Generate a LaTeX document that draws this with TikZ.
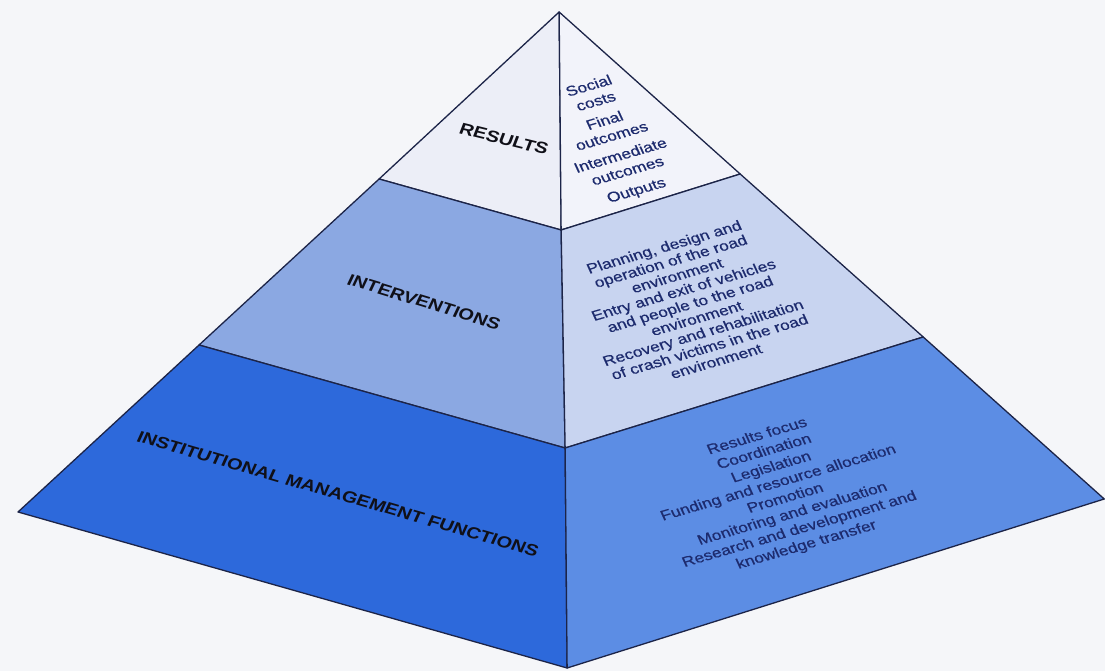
\documentclass[tikz,border=0pt]{standalone}
\usepackage{fontspec}
\setmainfont{Liberation Sans}
\newfontfamily\listfont{Liberation Sans}[FakeBold=0.6]
\definecolor{bgc}{HTML}{F5F6F9}
\definecolor{edgec}{HTML}{1C2448}
\definecolor{resL}{HTML}{ECEEF7}
\definecolor{resR}{HTML}{F2F3FA}
\definecolor{intL}{HTML}{8BA8E2}
\definecolor{intR}{HTML}{C8D4F0}
\definecolor{imfL}{HTML}{2D69DB}
\definecolor{imfR}{HTML}{5C8DE4}
\definecolor{lblc}{HTML}{101018}
\definecolor{navy}{HTML}{1D2B6E}
\tikzset{
  face/.style={draw=edgec, line width=1.3pt, line join=round},
  lbl/.style={font=\bfseries\fontsize{16}{18}\selectfont, text=lblc, transform shape, inner sep=0pt},
  lst/.style={font=\listfont\fontsize{14}{16.5}\selectfont, text=navy, align=center, transform shape, inner sep=0pt, rotate=20},
}
\begin{document}
\begin{tikzpicture}[x=0.8pt,y=-1pt,xscale=1.25]
\useasboundingbox (0,0) rectangle (1105,671);
\fill[bgc] (0,0) rectangle (1105,671);
\coordinate (A) at (559,12);
\coordinate (L) at (18,512);
\coordinate (F) at (567,668);
\coordinate (R) at (1104,499);
\coordinate (P1) at (379,179);
\coordinate (P2) at (199,345);
\coordinate (C1) at (561,230);
\coordinate (C2) at (565,448);
\coordinate (Q1) at (740,174);
\coordinate (Q2) at (923,337);
% faces
\filldraw[face, fill=resL] (A) -- (P1) -- (C1) -- cycle;
\filldraw[face, fill=resR] (A) -- (C1) -- (Q1) -- cycle;
\filldraw[face, fill=intL] (P1) -- (P2) -- (C2) -- (C1) -- cycle;
\filldraw[face, fill=intR] (C1) -- (C2) -- (Q2) -- (Q1) -- cycle;
\filldraw[face, fill=imfL] (P2) -- (L) -- (F) -- (C2) -- cycle;
\filldraw[face, fill=imfR] (C2) -- (F) -- (R) -- (Q2) -- cycle;
% left labels
\node[lbl, rotate=-17] (res) at (504,139) {RESULTS};
\node[lbl, rotate=-20.7] (int) at (424,302) {INTERVENTIONS};
\node[lbl, rotate=-19.9] (imf) at (338,494) {INSTITUTIONAL MANAGEMENT FUNCTIONS};
% right lists
\node[lst] (reslist) at (613,139) {Social\\costs\\[4pt]Final\\outcomes\\[4pt]Intermediate\\outcomes\\[4pt]Outputs};
\node[lst, font=\listfont\fontsize{14}{15.2}\selectfont] (intlist) at (690,304) {Planning, design and\\operation of the road\\environment\\Entry and exit of vehicles\\and people to the road\\environment\\Recovery and rehabilitation\\of crash victims in the road\\environment};
\node[lst] (imflist) at (782,491) {Results focus\\Coordination\\Legislation\\Funding and resource allocation\\Promotion\\Monitoring and evaluation\\Research and development and\\knowledge transfer};
\end{tikzpicture}
\end{document}
